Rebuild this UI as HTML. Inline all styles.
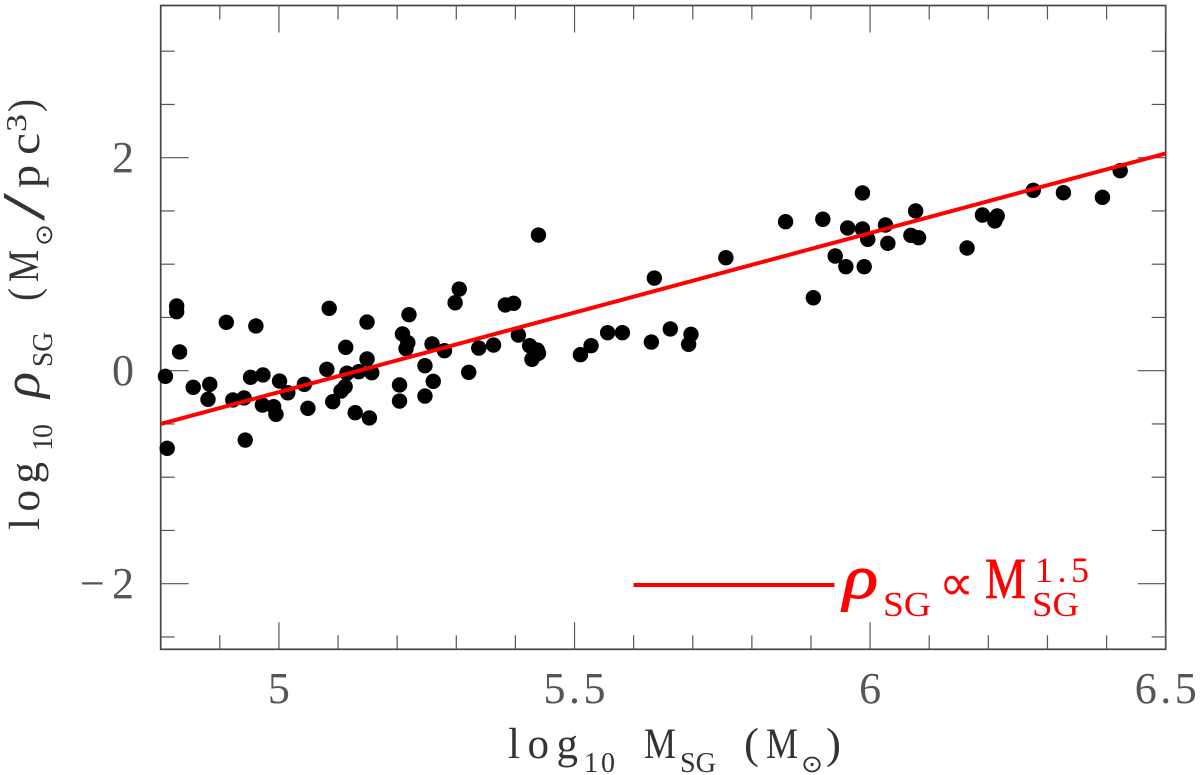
<!DOCTYPE html>
<html>
<head>
<meta charset="utf-8">
<style>
html,body{margin:0;padding:0;background:#fff;width:1200px;height:775px;overflow:hidden}
svg{display:block}
text{font-family:"Liberation Serif",serif}
.tk{font-size:44px;fill:#555}
.ti{font-size:43px;fill:#333}
.sb{font-size:28px;fill:#333}
.lg{fill:#f00}
</style>
</head>
<body>
<svg id="chart" width="1200" height="775" viewBox="0 0 1200 775" xmlns="http://www.w3.org/2000/svg">
  <rect x="160.7" y="5.5" width="1005" height="643.8" fill="none" stroke="#444" stroke-width="1.7"/>
  <g id="ticks"></g>
  <g id="ticklabels"></g>
  <g id="points"></g>
  <line id="fit" stroke="#f00" stroke-width="4"/>

  <g>
    <text class="ti" x="508" y="758" textLength="70">log</text>
    <text class="sb" x="584" y="772" textLength="31">10</text>
    <text class="ti" x="644" y="758" textLength="32" lengthAdjust="spacingAndGlyphs">M</text>
    <text class="sb" x="680" y="772" textLength="36" lengthAdjust="spacingAndGlyphs">SG</text>
    <text class="ti" x="744" y="758" textLength="15" lengthAdjust="spacingAndGlyphs">(</text>
    <text class="ti" x="766" y="758" textLength="32" lengthAdjust="spacingAndGlyphs">M</text>
    <text x="801" y="772" style="font-family:'DejaVu Sans',sans-serif;font-size:24px;fill:#333" textLength="22" lengthAdjust="spacingAndGlyphs">⊙</text>
    <text class="ti" x="826" y="758" textLength="15" lengthAdjust="spacingAndGlyphs">)</text>
  </g>

  <g>
    <text class="ti" transform="translate(39,530) rotate(-90)" textLength="68">log</text>
    <text class="sb" transform="translate(52,451) rotate(-90)" textLength="27">10</text>
    <text class="ti" transform="translate(39,398) rotate(-90)" style="font-style:italic;font-size:52px" textLength="26" lengthAdjust="spacingAndGlyphs">ρ</text>
    <text class="sb" transform="translate(52,367) rotate(-90)" textLength="35" lengthAdjust="spacingAndGlyphs">SG</text>
    <text class="ti" transform="translate(38,301) rotate(-90)" textLength="13" lengthAdjust="spacingAndGlyphs">(</text>
    <text class="ti" transform="translate(38,282) rotate(-90)" textLength="32" lengthAdjust="spacingAndGlyphs">M</text>
    <text transform="translate(52,246) rotate(-90)" style="font-family:'DejaVu Sans',sans-serif;font-size:24px;fill:#333" textLength="22" lengthAdjust="spacingAndGlyphs">⊙</text>
    <text class="ti" transform="translate(44,221) rotate(-90)" style="font-size:60px" textLength="28" lengthAdjust="spacingAndGlyphs">/</text>
    <text class="ti" transform="translate(39,188) rotate(-90)" textLength="23" lengthAdjust="spacingAndGlyphs">p</text>
    <text class="ti" transform="translate(39,155) rotate(-90)" textLength="22" lengthAdjust="spacingAndGlyphs">c</text>
    <text class="sb" transform="translate(26,132) rotate(-90)" textLength="18" lengthAdjust="spacingAndGlyphs">3</text>
    <text class="ti" transform="translate(38,112) rotate(-90)" textLength="13" lengthAdjust="spacingAndGlyphs">)</text>
  </g>

  <g>
    <line x1="633.5" y1="585" x2="834.5" y2="585" stroke="#f00" stroke-width="4"/>
    <text class="lg" x="843" y="598" style="font-size:62px;font-style:italic;stroke:#f00;stroke-width:1" textLength="35" lengthAdjust="spacingAndGlyphs">ρ</text>
    <text class="lg" x="883" y="616" style="font-size:35px" textLength="48" lengthAdjust="spacingAndGlyphs">SG</text>
    <text class="lg" x="939" y="600" style="font-family:'DejaVu Sans',sans-serif;font-size:50px" textLength="35" lengthAdjust="spacingAndGlyphs">∝</text>
    <text class="lg" x="985" y="598" style="font-size:58px;stroke:#f00;stroke-width:.6" textLength="41" lengthAdjust="spacingAndGlyphs">M</text>
    <text class="lg" x="1035" y="582" style="font-size:36px" textLength="54">1.5</text>
    <text class="lg" x="1032" y="616" style="font-size:35px" textLength="47" lengthAdjust="spacingAndGlyphs">SG</text>
  </g>
</svg>
<script>
var logMass = [4.808,4.811,4.827,4.827,4.832,4.855,4.883,4.880,4.911,4.922,4.941,4.952,4.973,4.961,4.943,4.972,4.991,4.995,5.001,5.015,5.043,5.049,5.085,5.081,5.091,5.113,5.115,5.112,5.105,5.135,5.157,5.149,5.149,5.129,5.153,5.220,5.209,5.218,5.215,5.204,5.204,5.247,5.247,5.261,5.259,5.280,5.321,5.298,5.305,5.338,5.363,5.405,5.383,5.397,5.439,5.424,5.437,5.439,5.428,5.510,5.528,5.556,5.581,5.630,5.662,5.697,5.693,5.635,5.756,5.857,5.920,5.962,5.987,5.987,5.996,6.026,6.030,6.077,6.069,6.082,5.941,5.959,5.990,5.904,6.164,6.190,6.215,6.211,6.276,6.327,6.393,6.423];
var logDensity = [-0.053,-0.729,0.608,0.554,0.176,-0.156,-0.128,-0.269,0.454,-0.275,-0.256,-0.062,-0.040,0.420,-0.651,-0.322,-0.338,-0.409,-0.097,-0.207,-0.128,-0.353,0.586,0.013,-0.291,0.220,-0.024,-0.150,-0.191,-0.009,-0.019,0.110,0.457,-0.394,-0.444,0.526,0.345,0.263,0.207,-0.134,-0.285,0.047,-0.238,-0.100,0.251,0.188,-0.015,0.638,0.767,0.213,0.241,0.335,0.617,0.633,1.274,0.235,0.194,0.163,0.107,0.150,0.235,0.357,0.357,0.269,0.392,0.342,0.248,0.870,1.061,1.399,1.422,1.340,1.669,1.331,1.234,1.368,1.196,1.500,1.271,1.249,1.077,0.977,0.977,0.685,1.152,1.462,1.453,1.406,1.694,1.671,1.628,1.878];
var fitX = [4.8, 6.5];
var fitY = [-0.5, 2.04];
var xMajorTicks = [5, 5.5, 6, 6.5];
var xMinorTicks = [4.9, 5.1, 5.2, 5.3, 5.4, 5.6, 5.7, 5.8, 5.9, 6.1, 6.2, 6.3, 6.4];
var yMajorTicks = [-2, 0, 2];
var yMinorTicks = [-2.5, -1.5, -1, -0.5, 0.5, 1, 1.5, 2.5, 3];
var xTickLabels = ["5", "5.5", "6", "6.5"];
var yTickLabels = ["−2", "0", "2"];

var NS = 'http://www.w3.org/2000/svg';
var LEFT = 160.7, RIGHT = 1165.7, TOP = 5.5, BOTTOM = 649.3;
function xScale(v) { return LEFT + (v - 4.8) * (RIGHT - LEFT) / 1.7; }
function yScale(v) { return 370.7 - v * 106.5; }
var tickGroup = document.getElementById('ticks');
var labelGroup = document.getElementById('ticklabels');
var pointGroup = document.getElementById('points');

function tickLine(x1, y1, x2, y2, name) {
  var l = document.createElementNS(NS, 'line');
  l.setAttribute('x1', x1);
  l.setAttribute('y1', y1);
  l.setAttribute('x2', x2);
  l.setAttribute('y2', y2);
  l.setAttribute('stroke', '#555');
  l.setAttribute('stroke-width', '1.2');
  
  
  tickGroup.appendChild(l);
}
function xTicks(arr, len, name) {
  arr.forEach(function (v) {
    var x = xScale(v);
    tickLine(x, BOTTOM, x, BOTTOM - len, name);
    tickLine(x, TOP, x, TOP + len, name);
  });
}
function yTicks(arr, len, name) {
  arr.forEach(function (v) {
    var y = yScale(v);
    tickLine(LEFT, y, LEFT + len, y, name);
    tickLine(RIGHT, y, RIGHT - len, y, name);
  });
}
xTicks(xMajorTicks, 27, 'x-major-tick');
xTicks(xMinorTicks, 14, 'x-minor-tick');
yTicks(yMajorTicks, 28, 'y-major-tick');
yTicks(yMinorTicks, 14, 'y-minor-tick');

xMajorTicks.forEach(function (v, i) {
  var t = document.createElementNS(NS, 'text');
  t.setAttribute('class', 'tk');
  t.setAttribute('x', xScale(v));
  t.setAttribute('y', 703);
  t.setAttribute('text-anchor', 'middle');
  if (xTickLabels[i].length > 1) {
    t.setAttribute('textLength', '62');
  }
  
  
  t.textContent = xTickLabels[i];
  labelGroup.appendChild(t);
});
yMajorTicks.forEach(function (v, i) {
  var t = document.createElementNS(NS, 'text');
  t.setAttribute('class', 'tk');
  t.setAttribute('x', 134);
  t.setAttribute('y', yScale(v) + 14.5);
  t.setAttribute('text-anchor', 'end');
  if (yTickLabels[i].length > 1) {
    t.setAttribute('textLength', '54');
  }
  
  
  t.textContent = yTickLabels[i];
  labelGroup.appendChild(t);
});

logMass.forEach(function (m, i) {
  var c = document.createElementNS(NS, 'circle');
  c.setAttribute('cx', xScale(m));
  c.setAttribute('cy', yScale(logDensity[i]));
  c.setAttribute('r', 7.7);
  c.setAttribute('fill', '#000');
  
  
  pointGroup.appendChild(c);
});

var fit = document.getElementById('fit');
fit.setAttribute('x1', xScale(fitX[0]));
fit.setAttribute('y1', yScale(fitY[0]));
fit.setAttribute('x2', xScale(fitX[1]));
fit.setAttribute('y2', yScale(fitY[1]));
</script>
</body>
</html>
